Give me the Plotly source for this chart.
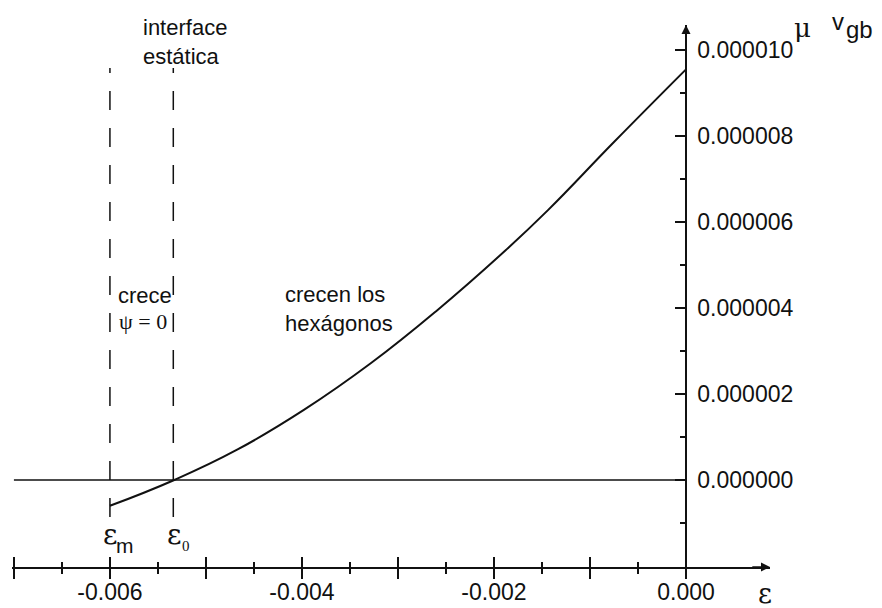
import plotly.graph_objects as go

# ---------------- data ----------------
eps = [-0.00600, -0.00533, -0.00467, -0.00398, -0.00328, -0.00259,
       -0.00189, -0.00144, -0.00075, 0.00000]
v_gb = [-0.60e-6, 0.00e-6, 0.71e-6, 1.63e-6, 2.72e-6, 3.95e-6,
        5.32e-6, 6.27e-6, 7.86e-6, 9.55e-6]

eps_m = -0.00600
eps_0 = -0.00534
dash_bottom = -0.86e-6
dash_top = 9.58e-6

x_tickvals = [-0.007, -0.006, -0.005, -0.004, -0.003, -0.002, -0.001, 0.000]
x_ticktext = ["", "-0.006", "", "-0.004", "", "-0.002", "", "0.000"]
x_minorvals = [-0.0065, -0.0055, -0.0045, -0.0035, -0.0025, -0.0015, -0.0005]

y_tickvals = [0e-6, 2e-6, 4e-6, 6e-6, 8e-6, 10e-6]
y_ticktext = ["0.000000", "0.000002", "0.000004", "0.000006", "0.000008", "0.000010"]
y_minorvals = [-1e-6, 1e-6, 3e-6, 5e-6, 7e-6, 9e-6]

x_range = [-0.00702, 0.000875]
y_range = [-2.023e-6, 10.582e-6]

# ---------------- layout geometry ----------------
W, H = 882, 608
ML, MR, MT, MB = 12, 112, 25, 41
PW = W - ML - MR
PH = H - MT - MB


def paper(px, py):
    """pixel position of a text label -> paper coordinates"""
    return (px - ML) / PW, 1 - (py - MT) / PH


SANS = "Liberation Sans, Arial, sans-serif"
SERIF = "Liberation Serif, Times New Roman, serif"
GREEK = "DejaVu Serif, Liberation Serif, serif"
BLACK = "#111111"

fig = go.Figure()

# zero line
fig.add_trace(go.Scatter(x=[x_tickvals[0], 0.0], y=[0, 0], mode="lines",
                         line=dict(color=BLACK, width=1.5), hoverinfo="skip"))

# dashed vertical lines (drawn bottom -> top)
for xv in (eps_m, eps_0):
    fig.add_trace(go.Scatter(x=[xv, xv], y=[dash_bottom, dash_top], mode="lines",
                             line=dict(color=BLACK, width=1.5, dash="19px,18px"),
                             hoverinfo="skip"))

# the curve
fig.add_trace(go.Scatter(x=eps, y=v_gb, mode="lines",
                         line=dict(color=BLACK, width=2, shape="spline", smoothing=1.3)))

# invisible trace on overlay axis (for crossing ticks)
fig.add_trace(go.Scatter(x=[x_range[0]], y=[0], xaxis="x2", mode="markers",
                         marker=dict(opacity=0), hoverinfo="skip"))

tickfont = dict(family=SANS, size=23, color=BLACK)

fig.update_layout(
    width=W, height=H,
    margin=dict(l=ML, r=MR, t=MT, b=MB, autoexpand=False),
    paper_bgcolor="white", plot_bgcolor="white",
    showlegend=False,
    xaxis=dict(range=x_range, showgrid=False, zeroline=False,
               showline=True, linecolor=BLACK, linewidth=1.5,
               tickmode="array", tickvals=x_tickvals, ticktext=x_ticktext,
               ticks="outside", ticklen=10, tickwidth=1.5, tickcolor=BLACK,
               minor=dict(tickmode="array", tickvals=x_minorvals, ticks="outside",
                          ticklen=5, tickwidth=1.5, tickcolor=BLACK),
               tickfont=tickfont, ticklabelstandoff=-6,
               automargin=False, anchor="y"),
    xaxis2=dict(range=x_range, overlaying="x", anchor="y", side="bottom",
                showgrid=False, zeroline=False, showline=False,
                tickmode="array", tickvals=x_tickvals, showticklabels=False,
                ticks="inside", ticklen=10, tickwidth=1.5, tickcolor=BLACK,
                minor=dict(tickmode="array", tickvals=x_minorvals, ticks="inside",
                           ticklen=5, tickwidth=1.5, tickcolor=BLACK),
                automargin=False),
    yaxis=dict(range=y_range, showgrid=False, zeroline=False,
               anchor="free",
               position=(0 - x_range[0]) / (x_range[1] - x_range[0]),
               side="right",
               showline=True, linecolor=BLACK, linewidth=1.5,
               tickmode="array", tickvals=y_tickvals, ticktext=y_ticktext,
               ticks="inside", ticklen=10, tickwidth=1.5, tickcolor=BLACK,
               minor=dict(tickmode="array", tickvals=y_minorvals, ticks="inside",
                          ticklen=5, tickwidth=1.5, tickcolor=BLACK),
               tickfont=tickfont, ticklabelstandoff=6, automargin=False),
)

ann = []


def text(px, py, s, family=SANS, size=22, xanchor="center", align="center"):
    x, y = paper(px, py)
    ann.append(dict(x=x, y=y, xref="paper", yref="paper", text=s, showarrow=False,
                    xanchor=xanchor, yanchor="middle", align=align,
                    font=dict(family=family, size=size, color=BLACK)))


text(141, 42, "interface<br>estática", xanchor="left", align="left")
text(116, 295, "crece", xanchor="left")
text(117, 321, "ψ = 0", family=SERIF, xanchor="left")
text(283, 309, "crecen los<br>hexágonos", xanchor="left", align="left")

# epsilon labels
text(110, 534, "ε", family=GREEK, size=28)
text(125, 545, "m", size=21)
text(174, 534, "ε", family=GREEK, size=28)
text(186, 546, "0", family=SERIF, size=15)
text(765, 593, "ε", family=GREEK, size=27)

# mu v_gb
text(802, 28, "μ", family=GREEK, size=26)
text(838, 22, "v", size=24)
text(859, 29, "gb", size=24)

# arrowheads on the axes
ann.append(dict(x=x_range[1], y=y_range[0], xref="x", yref="y",
                ax=x_range[1] - 0.0002, ay=y_range[0], axref="x", ayref="y",
                text="", showarrow=True, arrowhead=2, arrowsize=1.2,
                arrowwidth=1.5, arrowcolor=BLACK))
ann.append(dict(x=0, y=y_range[1], xref="x", yref="y",
                ax=0, ay=y_range[1] - 0.5e-6, axref="x", ayref="y",
                text="", showarrow=True, arrowhead=2, arrowsize=1.2,
                arrowwidth=1.5, arrowcolor=BLACK))

fig.update_layout(annotations=ann)

fig.write_html("out.html")
